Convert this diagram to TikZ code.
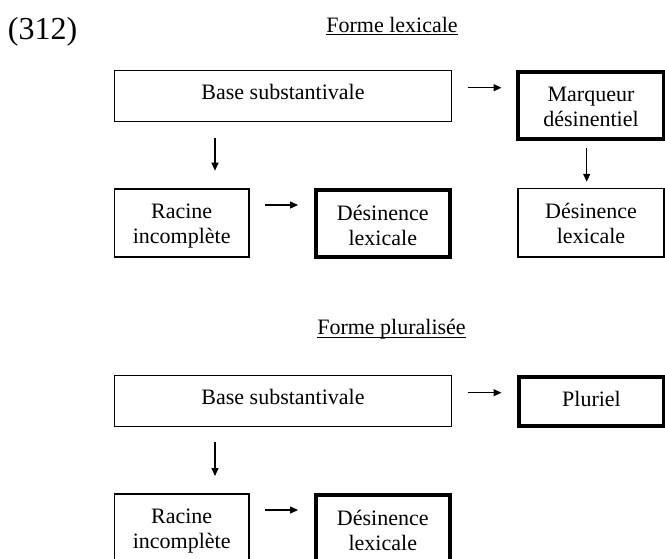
\documentclass[tikz,border=0pt]{standalone}
\usepackage{fontspec}
\setmainfont{Liberation Serif}
\usetikzlibrary{arrows.meta,calc}
\begin{document}
\begin{tikzpicture}[x=1pt,y=-1pt,
  box/.style={draw,rectangle,inner sep=0pt,outer sep=0pt,line width=1.3pt,align=center,
    font=\fontsize{22}{25}\selectfont,text depth=0pt},
  thickbox/.style={box,line width=4pt},
  one/.style={text height=6.2pt},
  two/.style={text height=42pt},
  arr/.style={line width=1.2pt,-{Triangle[length=8pt,width=7pt]}},
  title/.style={inner sep=0pt,outer sep=0pt,font=\fontsize{22}{25}\selectfont,anchor=base},
  uline/.style={line width=1pt}]
\useasboundingbox (0,0) rectangle (665,558);
\fill[white] (0,0) rectangle (665,558);
\clip (0,0) rectangle (665,558);

% titles
\node[title,font=\fontsize{32}{36}\selectfont,anchor=base west] (num) at (8,39) {(312)};
\node[title] (t1) at (392,32) {Forme lexicale};
\draw[uline] ([yshift=-2pt]t1.base west) -- ([yshift=-2pt]t1.base east);
\node[title] (t2) at (391.5,334) {Forme pluralisée};
\draw[uline] ([yshift=-3pt]t2.base west) -- ([yshift=-3pt]t2.base east);

% top diagram
\node[box,one,minimum width=337pt,minimum height=51pt] (base1) at (283,96.2) {Base substantivale};
\node[thickbox,two,minimum width=146pt,minimum height=67pt] (marq) at (591,105.5) {Marqueur\\désinentiel};
\node[box,two,text height=40pt,minimum width=134.7pt,minimum height=68pt] (rac1) at (181.7,223) {Racine\\incomplète};
\node[thickbox,two,text height=43pt,minimum width=133.5pt,minimum height=67pt] (des1) at (382.8,223.5) {Désinence\\lexicale};
\node[box,two,minimum width=146pt,minimum height=68.7pt] (des1r) at (591,222.7) {Désinence\\lexicale};

\draw[arr] ($(base1.east)+(16,-8.5)$) -- ($(marq.west)+(-16.5,-17.8)$);
\draw[arr] ($(base1.south)+(-68,16.3)$) -- ($(rac1.north)+(33.3,-18.3)$);
\draw[arr] ($(marq.south)+(-4.3,9)$) -- ($(des1r.north)+(-4.3,-6.6)$);
\draw[arr] ($(rac1.east)+(16,-18)$) -- ($(des1.west)+(-18,-18.5)$);

% bottom diagram
\node[box,one,minimum width=337pt,minimum height=51pt] (base2) at (283,401.2) {Base substantivale};
\node[thickbox,one,text height=10.4pt,minimum width=145pt,minimum height=49pt] (plur) at (591.5,401.5) {Pluriel};
\node[box,two,text height=40pt,minimum width=134.7pt,minimum height=68pt] (rac2) at (181.7,528) {Racine\\incomplète};
\node[thickbox,two,text height=43pt,minimum width=133.5pt,minimum height=67pt] (des2) at (382.8,528.5) {Désinence\\lexicale};

\draw[arr] ($(base2.east)+(16,-8.5)$) -- ($(plur.west)+(-17.5,-8.8)$);
\draw[arr] ($(base2.south)+(-68,15.3)$) -- ($(rac2.north)+(33.3,-18)$);
\draw[arr] ($(rac2.east)+(16,-18)$) -- ($(des2.west)+(-18,-18.5)$);
\end{tikzpicture}
\end{document}
